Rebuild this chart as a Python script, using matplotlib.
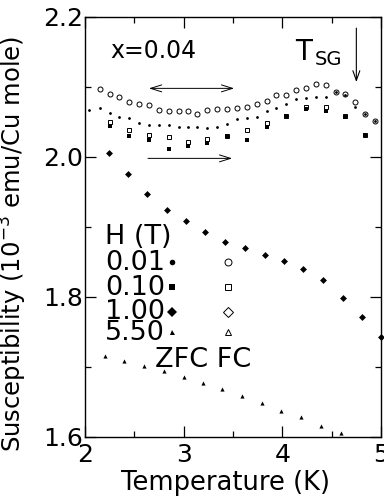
import matplotlib
matplotlib.use('Agg')
import matplotlib.pyplot as plt
from matplotlib.ticker import MultipleLocator

plt.rcParams['font.family'] = ['DejaVu Sans']
plt.rcParams['mathtext.default'] = 'regular'

# H = 0.01 T
t_001_zfc = [2.04, 2.15, 2.25, 2.34, 2.45, 2.55, 2.65, 2.75, 2.85, 2.95, 3.04, 3.14, 3.24, 3.34, 3.44,
             3.54, 3.64, 3.74, 3.84, 3.94, 4.04, 4.14, 4.24, 4.34, 4.44, 4.54, 4.64, 4.74, 4.84, 4.94]
chi_001_zfc = [2.067, 2.070, 2.063, 2.057, 2.055, 2.048, 2.045, 2.045, 2.046, 2.043, 2.043, 2.043, 2.042,
               2.043, 2.047, 2.054, 2.056, 2.057, 2.066, 2.070, 2.076, 2.083, 2.084, 2.086, 2.085, 2.093,
               2.089, 2.071, 2.062, 2.051]
t_001_fc = [2.15, 2.25, 2.34, 2.45, 2.55, 2.65, 2.75, 2.85, 2.95, 3.04, 3.14, 3.24, 3.34, 3.44, 3.54,
            3.64, 3.74, 3.84, 3.94, 4.04, 4.14, 4.24, 4.34, 4.44, 4.54, 4.64, 4.74, 4.84, 4.94]
chi_001_fc = [2.097, 2.090, 2.085, 2.078, 2.076, 2.074, 2.067, 2.065, 2.065, 2.065, 2.061, 2.067, 2.068,
              2.068, 2.070, 2.071, 2.076, 2.080, 2.088, 2.089, 2.095, 2.098, 2.104, 2.103, 2.093, 2.090,
              2.078, 2.062, 2.051]

# H = 0.10 T
t_010 = [2.25, 2.45, 2.65, 2.85, 3.04, 3.24, 3.44, 3.64, 3.84, 4.04, 4.24, 4.44, 4.64, 4.84]
chi_010_zfc = [2.044, 2.030, 2.024, 2.012, 2.015, 2.020, 2.030, 2.024, 2.043, 2.058, 2.068, 2.065, 2.057, 2.031]
chi_010_fc = [2.050, 2.038, 2.031, 2.028, 2.022, 2.026, 2.030, 2.038, 2.049, 2.059, 2.071, 2.072, 2.058, 2.032]

# H = 1.00 T (ZFC and FC coincide)
t_100 = [2.24, 2.44, 2.63, 2.83, 3.02, 3.22, 3.42, 3.62, 3.82, 4.02, 4.21, 4.41, 4.61, 4.81, 5.00]
chi_100 = [2.005, 1.975, 1.947, 1.924, 1.908, 1.893, 1.879, 1.870, 1.860, 1.851, 1.840, 1.824, 1.799,
           1.772, 1.743]

# H = 5.50 T
t_550 = [2.20, 2.40, 2.60, 2.80, 3.00, 3.20, 3.39, 3.59, 3.79, 3.99, 4.19, 4.39, 4.59, 4.79]
chi_550 = [1.715, 1.709, 1.701, 1.694, 1.685, 1.677, 1.669, 1.659, 1.648, 1.637, 1.628, 1.616, 1.605, 1.596]

field_labels = ['0.01', '0.10', '1.00', '5.50']
zfc_markers = ['o', 's', 'D', '^']
fc_markers = ['o', 's', 'D', '^']

fig = plt.figure(figsize=(3.84, 4.96), dpi=100)
ax = fig.add_axes([0.2214, 0.1190, 0.7708, 0.8468])

k = dict(ls='none', color='black')
ax.plot(t_001_fc, chi_001_fc, marker='o', ms=3.6, mfc='white', mew=0.7, **k)
ax.plot(t_001_zfc, chi_001_zfc, marker='o', ms=2.0, mew=0, **k)
ax.plot(t_010, chi_010_fc, marker='s', ms=3.4, mfc='white', mew=0.7, **k)
ax.plot(t_010, chi_010_zfc, marker='s', ms=2.6, mew=0, **k)
ax.plot(t_100, chi_100, marker='D', ms=3.0, mew=0, clip_on=False, **k)
ax.plot(t_100, chi_100, marker='D', ms=3.0, mfc='none', mew=0.5, clip_on=False, **k)
ax.plot(t_550, chi_550, marker='^', ms=3.0, mew=0, **k)

ax.set_xlim(2, 5)
ax.set_ylim(1.6, 2.2)
ax.xaxis.set_major_locator(MultipleLocator(1))
ax.xaxis.set_minor_locator(MultipleLocator(0.5))
ax.yaxis.set_major_locator(MultipleLocator(0.2))
ax.yaxis.set_minor_locator(MultipleLocator(0.1))
ax.yaxis.set_major_formatter(plt.FormatStrFormatter('%.1f'))
ax.tick_params(which='both', direction='in', top=True, right=True, width=0.9, labelsize=18)
ax.tick_params(which='major', length=8)
ax.tick_params(which='minor', length=4.5)
ax.tick_params(axis='y', pad=1.5)
ax.tick_params(axis='x', pad=4)
for s in ax.spines.values():
    s.set_linewidth(1.0)

ax.set_xlabel('Temperature (K)', fontsize=18.5)
ax.set_ylabel('Susceptibility (10$^{-3}$ emu/Cu mole)', fontsize=17.5)
ax.xaxis.set_label_coords(0.476, -0.078)
ax.yaxis.set_label_coords(-0.19, 0.46)

# annotations
ax.text(0.0845, 0.902, 'x=0.04', transform=ax.transAxes, fontsize=17, va='baseline')
ax.text(0.709, 0.898, 'T', transform=ax.transAxes, fontsize=20, va='baseline')
ax.text(0.775, 0.886, 'SG', transform=ax.transAxes, fontsize=14, va='baseline')
ax.annotate('', xy=(4.75, 2.103), xytext=(4.75, 2.188),
            arrowprops=dict(arrowstyle='->,head_length=0.7,head_width=0.25', lw=0.8, color='black'))
ax.annotate('', xy=(2.62, 2.098), xytext=(3.54, 2.098),
            arrowprops=dict(arrowstyle='<->,head_length=0.8,head_width=0.25', lw=0.7, color='black'))
ax.annotate('', xy=(3.52, 1.998), xytext=(2.61, 1.998),
            arrowprops=dict(arrowstyle='->,head_length=0.8,head_width=0.25', lw=0.7, color='black'))

# hand-made legend
tr = ax.transAxes
ax.text(0.0676, 0.4595, 'H (T)', transform=tr, fontsize=19.5, va='baseline')
row_y = [0.3976, 0.338, 0.281, 0.231]
mark_y = [0.4174, 0.358, 0.298, 0.251]
zfc_ms = [4.0, 3.8, 5.2, 3.6]
fc_ms = [5.0, 4.4, 5.6, 4.0]
for lab, ry, my, mz, mf, sz, sf in zip(field_labels, row_y, mark_y, zfc_markers, fc_markers, zfc_ms, fc_ms):
    ax.text(0.0676, ry, lab, transform=tr, fontsize=19.5, va='baseline')
    ax.plot([0.295], [my], marker=mz, ms=sz, color='black', mew=0, transform=tr, clip_on=False)
    ax.plot([0.484], [my], marker=mf, ms=sf, color='black', mfc='white', mew=0.7,
            transform=tr, clip_on=False)
ax.text(0.2365, 0.167, 'ZFC FC', transform=tr, fontsize=19.5, va='baseline')

fig.savefig('out.png', dpi=100)
